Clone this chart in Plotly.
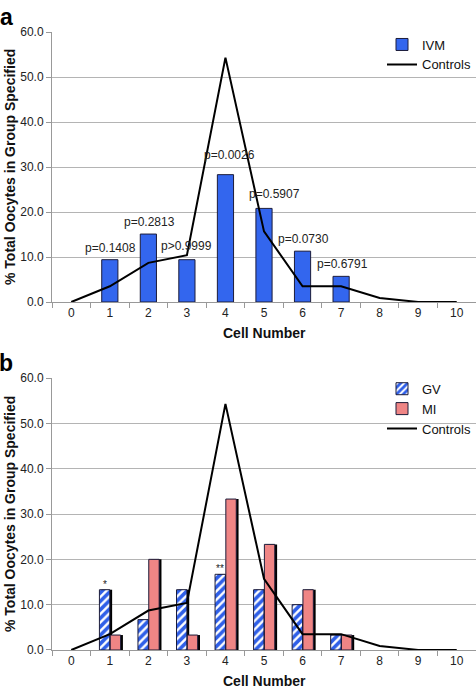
import plotly.graph_objects as go

cells = ["0", "1", "2", "3", "4", "5", "6", "7", "8", "9", "10"]
ivm = [None, 9.4, 15.1, 9.4, 28.3, 20.8, 11.3, 5.7, None, None, None]
controls = [0, 3.5, 8.7, 10.4, 54.3, 15.7, 3.5, 3.5, 0.9, 0, 0]
gv = [None, 13.3, 6.7, 13.3, 16.7, 13.3, 10.0, 3.3, None, None, None]
mi = [None, 3.3, 20.0, 3.3, 33.3, 23.3, 13.3, 3.3, None, None, None]
p_labels = [None, "p=0.1408", "p=0.2813", "p>0.9999", "p=0.0026", "p=0.5907", "p=0.0730", "p=0.6791", None, None, None]
gv_marks = [None, "*", None, None, "**", None, None, None, None, None, None]
y_ticks = [0, 10, 20, 30, 40, 50, 60]

FONT = "Liberation Sans, Arial, sans-serif"
BLUE = "#3366ee"
PINK = "#ef8585"
OUTLINE = "#1c1c3a"

fig = go.Figure()

# Panel a
fig.add_trace(go.Bar(x=cells, y=ivm, name="IVM", marker=dict(color=BLUE, line=dict(color=OUTLINE, width=1)),
                     width=0.42, xaxis="x", yaxis="y", legend="legend"))
fig.add_trace(go.Scatter(x=cells, y=controls, name="Controls", mode="lines", line=dict(color="black", width=2),
                         xaxis="x", yaxis="y", legend="legend"))

# Panel b: shadows first
fig.add_trace(go.Bar(x=cells, y=gv, marker=dict(color="black", line=dict(width=0)), width=0.27, offset=-0.21,
                     showlegend=False, hoverinfo="skip", xaxis="x2", yaxis="y2"))
fig.add_trace(go.Bar(x=cells, y=mi, marker=dict(color="black", line=dict(width=0)), width=0.27, offset=0.07,
                     showlegend=False, hoverinfo="skip", xaxis="x2", yaxis="y2"))
fig.add_trace(go.Bar(x=cells, y=gv, name="GV", width=0.27, offset=-0.27,
                     marker=dict(color="white", line=dict(color=OUTLINE, width=1),
                                 pattern=dict(shape="/", fgcolor="#2f5fe8", bgcolor="white", size=6,
                                              solidity=0.6, fgopacity=1)),
                     xaxis="x2", yaxis="y2", legend="legend2"))
fig.add_trace(go.Bar(x=cells, y=mi, name="MI", width=0.27, offset=0.01,
                     marker=dict(color=PINK, line=dict(color=OUTLINE, width=1)),
                     xaxis="x2", yaxis="y2", legend="legend2"))
fig.add_trace(go.Scatter(x=cells, y=controls, name="Controls", mode="lines", line=dict(color="black", width=2),
                         xaxis="x2", yaxis="y2", legend="legend2"))

annotations = []
p_shift = {"p=0.0026": (4, 8), "p=0.5907": (10, 2), "p>0.9999": (0, 2)}
for c, v, t in zip(cells, ivm, p_labels):
    if t:
        xs, ys = p_shift.get(t, (1, 0))
        annotations.append(dict(x=c, y=v, xref="x", yref="y", text=t, showarrow=False, yanchor="bottom",
                                xshift=xs, yshift=3 + ys, font=dict(size=12, color="#222", family=FONT)))
for c, v, t in zip(cells, gv, gv_marks):
    if t:
        annotations.append(dict(x=c, y=v, xref="x2", yref="y2", text=t, showarrow=False, yanchor="bottom",
                                xshift=-5, yshift=-2, font=dict(size=10, color="#222", family=FONT)))

for ax, lab in (("", "a"), ("2", "b")):
    annotations.append(dict(x=0, y=1, xref=f"x{ax} domain", yref=f"y{ax} domain", text=f"<b>{lab}</b>",
                            showarrow=False, xanchor="center", yanchor="bottom", xshift=-46, yshift=0,
                            font=dict(size=23, color="black", family=FONT)))
    annotations.append(dict(x=0, y=0.5, xref=f"x{ax} domain", yref=f"y{ax} domain",
                            text="<b>% Total Oocytes in Group Specified</b>", textangle=-90, showarrow=False,
                            xanchor="center", yanchor="middle", xshift=-42, font=dict(size=14, color="#111", family=FONT)))
    annotations.append(dict(x=0.5, y=0, xref=f"x{ax} domain", yref=f"y{ax} domain", text="<b>Cell Number</b>",
                            showarrow=False, xanchor="center", yanchor="middle", yshift=-31,
                            font=dict(size=14, color="#111", family=FONT)))

xcommon = dict(type="category", tickson="boundaries", ticks="outside", ticklen=5, tickcolor="#999",
               showline=True, linecolor="#999", linewidth=1, showgrid=False, range=[-0.5, 10.5],
               tickfont=dict(size=12, color="#222", family=FONT), fixedrange=True)
ycommon = dict(range=[0, 60], tickvals=y_ticks, tickformat=".1f", ticks="outside", ticklen=5, tickcolor="#999",
               showline=True, linecolor="#999", linewidth=1, showgrid=True, gridcolor="#b4b4b4", gridwidth=1,
               zeroline=False, tickfont=dict(size=12, color="#222", family=FONT), fixedrange=True)

fig.update_layout(
    width=476, height=688,
    margin=dict(l=52, r=0, t=32, b=38),
    paper_bgcolor="white", plot_bgcolor="white",
    barmode="overlay",
    font=dict(family=FONT),
    xaxis=dict(**xcommon, anchor="y"),
    yaxis=dict(**ycommon, domain=[0.5631, 1.0], anchor="x"),
    xaxis2=dict(**xcommon, anchor="y2"),
    yaxis2=dict(**ycommon, domain=[0.0, 0.4401], anchor="x2"),
    legend=dict(x=1, y=1.004, xanchor="right", yanchor="top", bgcolor="rgba(255,255,255,0)",
                font=dict(size=13, color="#111", family=FONT), tracegroupgap=0, itemwidth=30),
    legend2=dict(x=1, y=0.447, xanchor="right", yanchor="top", bgcolor="rgba(255,255,255,0)",
                 font=dict(size=13, color="#111", family=FONT), tracegroupgap=0, itemwidth=30),
    annotations=annotations,
    showlegend=True,
)

fig.write_html("out.html", config={"displayModeBar": False},
               post_script="document.body.style.margin='0';document.body.style.overflow='hidden';")
